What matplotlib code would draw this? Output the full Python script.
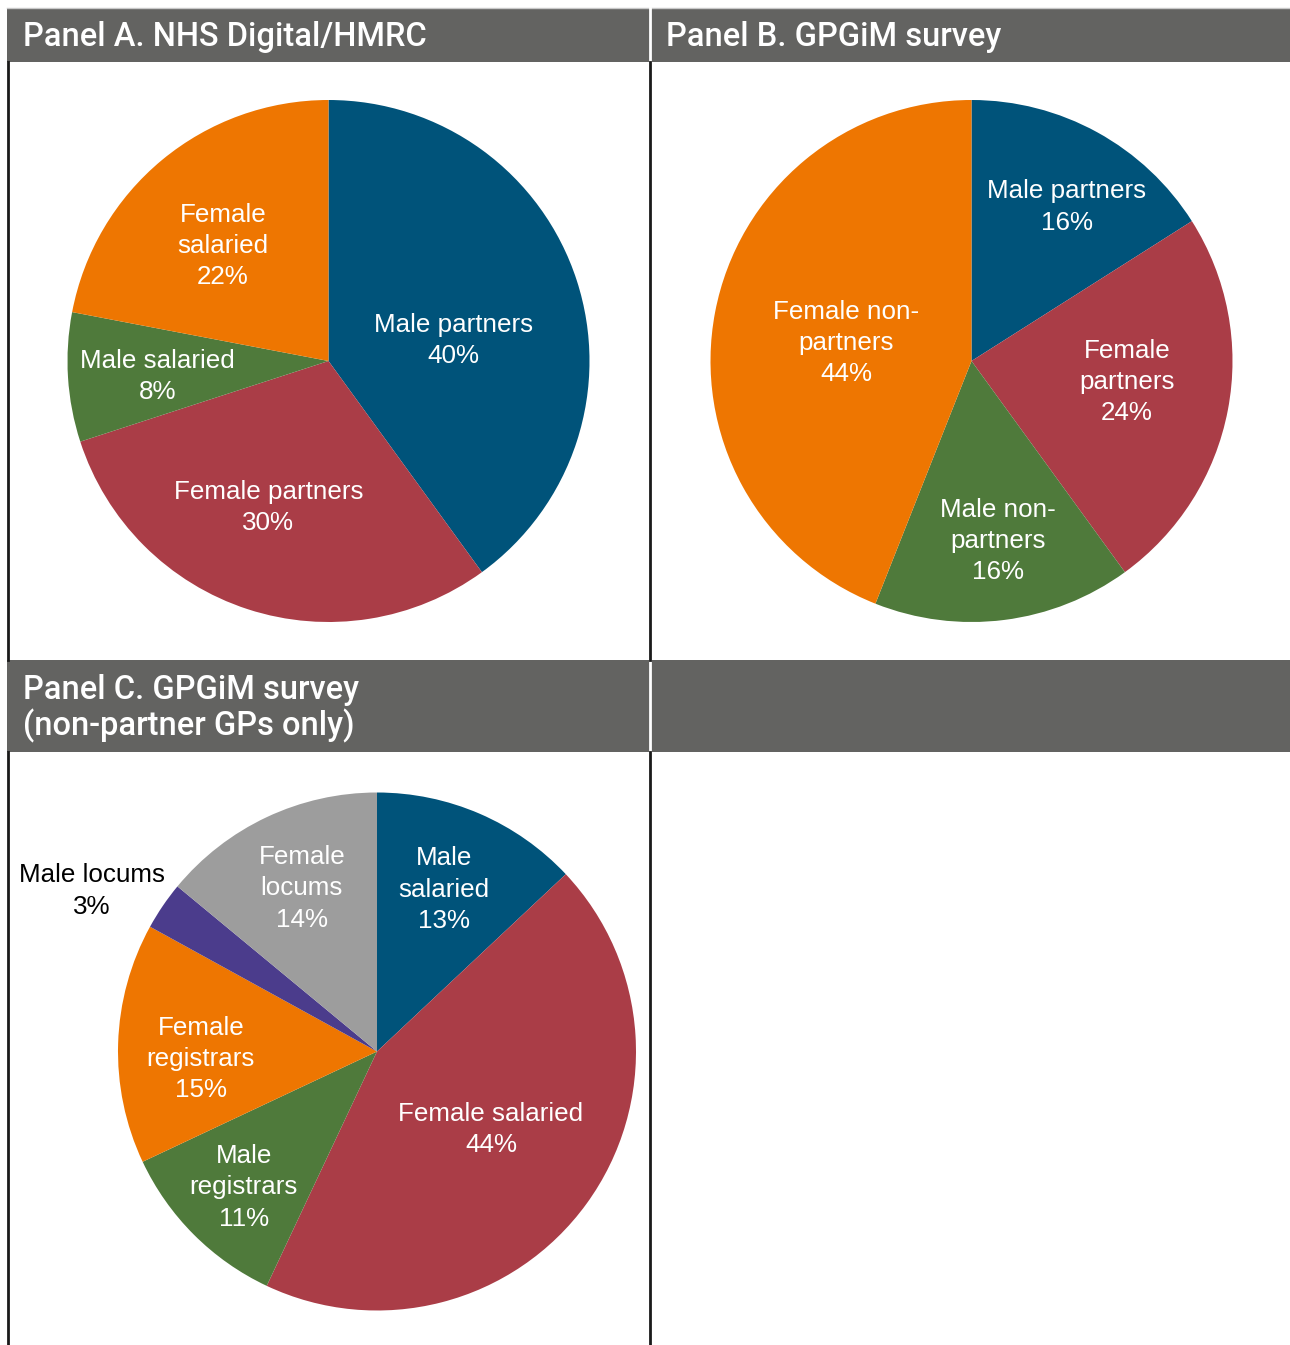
import matplotlib
matplotlib.use("Agg")
import matplotlib.pyplot as plt
from matplotlib.patches import Rectangle
from matplotlib.lines import Line2D

plt.rcParams['font.family'] = ['Liberation Sans', 'DejaVu Sans']

W, H = 1290, 1345

# colours
BLUE = '#00537a'
RED = '#aa3d47'
GREEN = '#4f7a3b'
ORANGE = '#ee7601'
PURPLE = '#4b3c8c'
GREY = '#9d9d9d'
HEADER = '#636361'

# Panel A - NHS Digital/HMRC
a_labels = ['Male partners', 'Female partners', 'Male salaried', 'Female\nsalaried']
a_values = [40, 30, 8, 22]
a_colors = [BLUE, RED, GREEN, ORANGE]

# Panel B - GPGiM survey
b_labels = ['Male partners', 'Female\npartners', 'Male non-\npartners', 'Female non-\npartners']
b_values = [16, 24, 16, 44]
b_colors = [BLUE, RED, GREEN, ORANGE]

# Panel C - GPGiM survey, non-partner GPs only
c_labels = ['Male\nsalaried', 'Female salaried', 'Male\nregistrars', 'Female\nregistrars',
            'Male locums', 'Female\nlocums']
c_values = [13, 44, 11, 15, 3, 14]
c_colors = [BLUE, RED, GREEN, ORANGE, PURPLE, GREY]

# label spots, in units of the pie radius
a_pos = [(0.48, 0.08), (-0.23, -0.56), (-0.655, -0.06), (-0.405, 0.44)]
b_pos = [(0.365, 0.59), (0.595, -0.08), (0.10, -0.69), (-0.48, 0.07)]
c_pos = [(0.26, 0.625), (0.44, -0.30), (-0.515, -0.525), (-0.68, -0.03), (-1.10, 0.62), (-0.29, 0.63)]
c_txtcol = ['white', 'white', 'white', 'white', 'black', 'white']

fig = plt.figure(figsize=(W / 100, H / 100), dpi=100)


def fx(x):
    return x / W


def fy(y):
    return 1 - y / H


def header(x0, x1, y0, y1, lines):
    fig.patches.append(Rectangle((fx(x0), fy(y1)), fx(x1 - x0), (y1 - y0) / H,
                                 transform=fig.transFigure, facecolor=HEADER,
                                 edgecolor='none', zorder=1))
    for text, base in lines:
        fig.text(fx(x0 + 16), fy(base), text, color='white', fontsize=23.5,
                 family=['Roboto', 'Liberation Sans'], fontweight='medium',
                 ha='left', va='baseline')


def vline(x, y0, y1, color='#1a1a1a', lw=2):
    fig.add_artist(Line2D([fx(x), fx(x)], [fy(y0), fy(y1)], color=color, lw=lw,
                          transform=fig.transFigure, zorder=3))


def pie(cx, cy, r, values, colors, labels, pos, txtcol=None):
    ax = fig.add_axes([fx(cx - r), fy(cy + r), 2 * r / W, 2 * r / H])
    ax.pie(values, colors=colors, startangle=90, counterclock=False, radius=1,
           wedgeprops=dict(linewidth=0))
    ax.set_xlim(-1, 1)
    ax.set_ylim(-1, 1)
    ax.set_aspect('equal')
    ax.axis('off')
    for i, (lab, v, (px, py)) in enumerate(zip(labels, values, pos)):
        col = 'white' if txtcol is None else txtcol[i]
        ax.text(px, py, lab + '\n' + str(v) + '%', ha='center', va='center',
                fontsize=18.7, color=col, linespacing=1.38, clip_on=False)
    return ax


# header bars
header(7, 650, 8, 62, [('Panel A. NHS Digital/HMRC', 46)])
header(650, 1290, 8, 62, [('Panel B. GPGiM survey', 46)])
header(7, 650, 660, 752, [('Panel C. GPGiM survey', 699), ('(non-partner GPs only)', 735)])
header(650, 1290, 660, 752, [])
vline(650, 8, 62, color='white', lw=2)
vline(650, 660, 752, color='white', lw=2)
fig.add_artist(Line2D([fx(7), fx(1290)], [fy(7.5), fy(7.5)], color='#c8c8c8', lw=1,
                      transform=fig.transFigure))

# frame lines
vline(8, 62, 660)
vline(8, 752, 1345)
vline(650, 62, 660)
vline(650, 752, 1345)

pie(328.5, 361, 261, a_values, a_colors, a_labels, a_pos)
pie(971.5, 361, 261, b_values, b_colors, b_labels, b_pos)
pie(377, 1051.5, 259, c_values, c_colors, c_labels, c_pos, c_txtcol)

fig.savefig('out.png', dpi=100)
